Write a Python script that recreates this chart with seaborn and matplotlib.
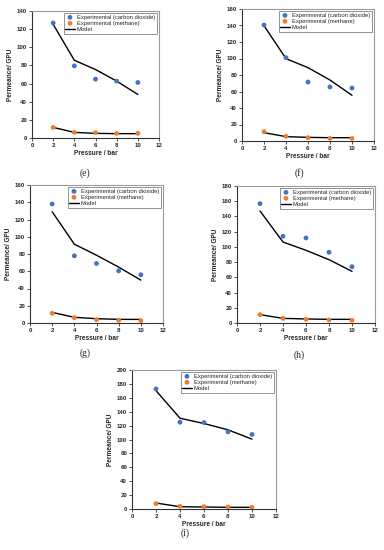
import pandas as pd
import matplotlib.pyplot as plt
import seaborn as sns

# pressure points (bar)
pressure = [2, 4, 6, 8, 10]

# panel (e)
co2_e = [126.8, 79.5, 64.9, 62.7, 61.2]
ch4_e = [11.7, 6.2, 5.9, 5.1, 5.1]
model_co2_e = [125.3, 85.7, 75.5, 62.7, 48.0]
model_ch4_e = [11.7, 6.2, 5.1, 4.8, 4.8]

# panel (f)
co2_f = [140.6, 101.0, 71.5, 65.5, 64.2]
ch4_f = [11.3, 5.7, 4.0, 3.2, 3.2]
model_co2_f = [139.8, 99.8, 88.9, 73.9, 55.4]
model_ch4_f = [10.1, 5.3, 4.4, 4.0, 4.0]

# panel (g)
co2_g = [138.0, 77.9, 69.0, 60.5, 55.9]
ch4_g = [11.2, 6.2, 3.9, 3.1, 2.7]
model_co2_g = [129.0, 91.4, 78.6, 64.8, 49.7]
model_ch4_g = [12.3, 6.6, 5.0, 4.2, 4.2]

# panel (h)
co2_h = [156.8, 113.9, 111.7, 92.9, 74.0]
ch4_h = [11.0, 6.1, 4.8, 3.9, 3.5]
model_co2_h = [147.2, 106.4, 95.5, 83.2, 67.9]
model_ch4_h = [11.0, 6.1, 5.3, 4.8, 4.8]

# panel (i)
co2_i = [172.7, 124.9, 124.4, 111.0, 107.2]
ch4_i = [7.7, 3.8, 3.3, 2.9, 2.4]
model_co2_i = [170.3, 130.6, 123.0, 113.9, 100.5]
model_ch4_i = [8.6, 3.3, 2.9, 2.4, 2.4]

panel_names = ["(e)", "(f)", "(g)", "(h)", "(i)"]
y_max = [140, 160, 160, 180, 200]

sns.set_style("ticks")
plt.rcParams["font.family"] = ["Liberation Sans", "DejaVu Sans"]

W, H = 384, 550
fig = plt.figure(figsize=(W / 100, H / 100), dpi=100)

# axes boxes in pixels: left, top, right, bottom
boxes = [(32, 11, 159, 138), (242, 9, 374, 141), (30, 185, 163, 323),
         (237, 186, 375, 323), (132, 370, 276, 509)]
# caption positions in pixels (x, y)
captions = [(85, 173), (299, 173), (85, 353), (299, 355), (185, 533)]

series = [(co2_e, ch4_e, model_co2_e, model_ch4_e),
          (co2_f, ch4_f, model_co2_f, model_ch4_f),
          (co2_g, ch4_g, model_co2_g, model_ch4_g),
          (co2_h, ch4_h, model_co2_h, model_ch4_h),
          (co2_i, ch4_i, model_co2_i, model_ch4_i)]

blue = "#4472C4"
orange = "#ED7D31"

for k in range(5):
    l, t, r, b = boxes[k]
    ax = fig.add_axes([l / W, 1 - b / H, (r - l) / W, (b - t) / H])
    co2, ch4, m_co2, m_ch4 = series[k]
    df = pd.DataFrame({"Pressure": pressure, "co2": co2, "ch4": ch4,
                       "m_co2": m_co2, "m_ch4": m_ch4})

    sns.lineplot(data=df, x="Pressure", y="m_co2", color="black", lw=1.0,
                 label="Model", ax=ax, zorder=2)
    sns.lineplot(data=df, x="Pressure", y="m_ch4", color="black", lw=1.0,
                 ax=ax, zorder=2)
    sns.scatterplot(data=df, x="Pressure", y="co2", color=blue, s=12,
                    edgecolor="none", label="Experimental (carbon dioxide)",
                    ax=ax, zorder=3)
    sns.scatterplot(data=df, x="Pressure", y="ch4", color=orange, s=12,
                    edgecolor="none", label="Experimental (methane)",
                    ax=ax, zorder=3)

    ax.set_xlim(0, 12)
    ax.set_ylim(0, y_max[k])
    ax.set_xticks(range(0, 13, 2))
    ax.set_yticks(range(0, y_max[k] + 1, 20))
    ax.set_xlabel("Pressure / bar", fontsize=4.7, fontweight="bold", labelpad=1.5)
    ax.set_ylabel("Permeance/ GPU", fontsize=4.7, fontweight="bold", labelpad=2)
    ax.tick_params(direction="out", length=2, width=0.6, labelsize=4.4,
                   pad=1.5, color="#333333")
    for lab in ax.get_xticklabels() + ax.get_yticklabels():
        lab.set_fontweight("bold")

    for side in ["left", "bottom"]:
        ax.spines[side].set_color("#333333")
        ax.spines[side].set_linewidth(0.8)
    for side in ["top", "right"]:
        ax.spines[side].set_visible(True)
        ax.spines[side].set_color("#9A9A9A")
        ax.spines[side].set_linewidth(0.8)

    h, lbl = ax.get_legend_handles_labels()
    order = [lbl.index("Experimental (carbon dioxide)"),
             lbl.index("Experimental (methane)"), lbl.index("Model")]
    leg = ax.legend([h[i] for i in order], [lbl[i] for i in order],
                    loc="upper right", fontsize=4.2, frameon=True,
                    fancybox=False, edgecolor="#808080", framealpha=1,
                    borderpad=0.3, labelspacing=0.15, handlelength=1.6,
                    handletextpad=0.4, borderaxespad=0.35, markerscale=1.0)
    leg.get_frame().set_linewidth(0.6)

    cx, cy = captions[k]
    fig.text(cx / W, 1 - cy / H, panel_names[k], ha="center", va="center",
             fontsize=7, family=["Liberation Serif", "DejaVu Serif"])

plt.savefig("out.png", dpi=100)
